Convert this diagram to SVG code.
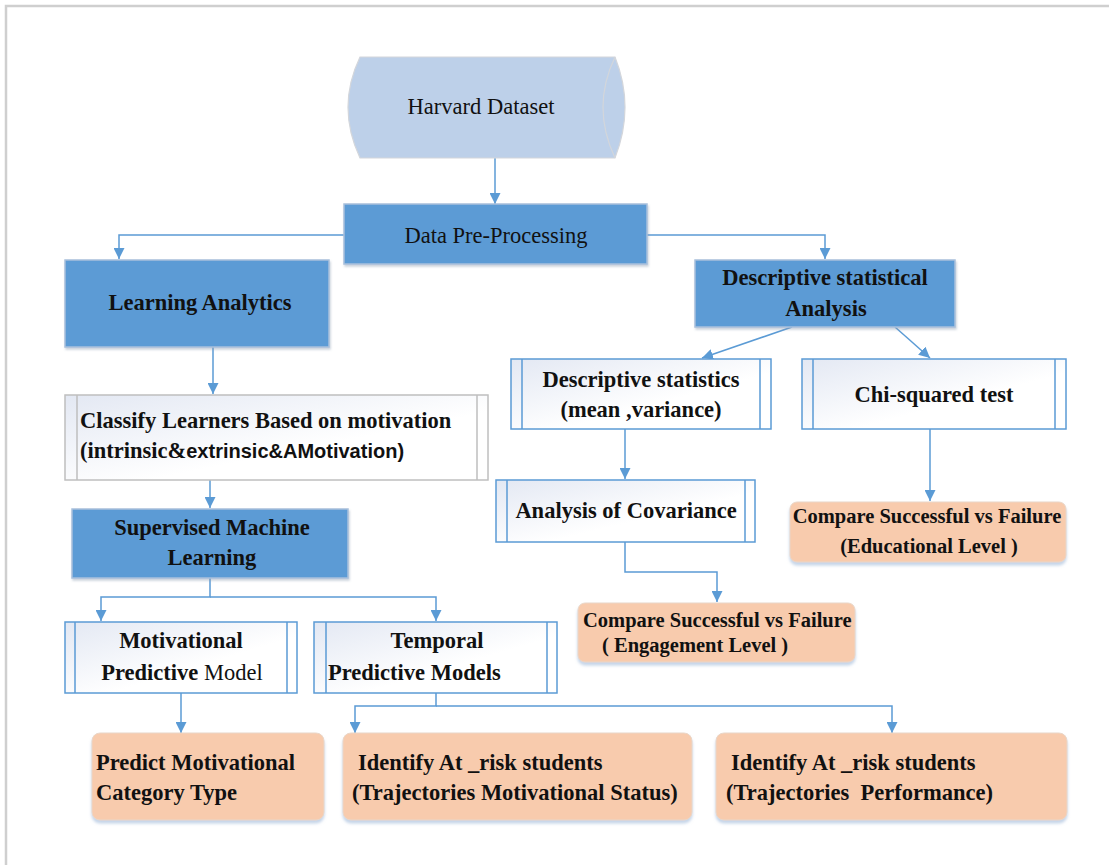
<svg xmlns="http://www.w3.org/2000/svg" width="1109" height="865" viewBox="0 0 1109 865">
<style>
.t{font-family:"Liberation Serif","Times New Roman",serif;fill:#111;font-size:22.5px}
.b{font-weight:bold}
.s{font-size:20.5px}
.blue{fill:#5b9bd5;stroke:#a9c0dc;stroke-width:1.5}
.proc{fill:url(#pg);stroke:#5b9bd5;stroke-width:1.5}
.procg{fill:url(#pg);stroke:#bfbfbf;stroke-width:1.5}
.in{stroke:#5b9bd5;stroke-width:1.5;fill:none}
.ing{stroke:#bfbfbf;stroke-width:1.5;fill:none}
.orange{fill:#f8cbad;stroke:#e9d6c8;stroke-width:1}
.c{fill:none;stroke:#5b9bd5;stroke-width:1.5;marker-end:url(#ah)}
</style>
<defs>
<linearGradient id="pg" x1="0" y1="0" x2="1" y2="1">
<stop offset="0" stop-color="#e3e8f3"/>
<stop offset="0.6" stop-color="#ffffff"/>
</linearGradient>
<filter id="sh" x="-5%" y="-10%" width="110%" height="125%">
<feDropShadow dx="1" dy="2" stdDeviation="1.2" flood-color="#8a9bb0" flood-opacity="0.45"/>
</filter>
<filter id="sho" x="-5%" y="-10%" width="110%" height="125%">
<feDropShadow dx="0" dy="3" stdDeviation="1.5" flood-color="#9db8d9" flood-opacity="0.6"/>
</filter>
<marker id="ah" markerUnits="userSpaceOnUse" markerWidth="11" markerHeight="11" refX="10" refY="5" orient="auto" viewBox="0 0 10 10">
<path d="M0,0 L10,5 L0,10 z" fill="#5b9bd5"/>
</marker>
</defs>
<rect width="1109" height="865" fill="#ffffff"/>
<path d="M6,865 V6 H1109" fill="none" stroke="#cfcfcf" stroke-width="2.5"/>

<g id="connectors">
<path class="c" d="M495,158 V204"/>
<path class="c" d="M344,235 H119 V259"/>
<path class="c" d="M647,235 H825 V259"/>
<path class="c" d="M213,347 V394"/>
<path class="c" d="M792,327 L702,358"/>
<path class="c" d="M895,327 L930,358"/>
<path class="c" d="M210,480 V508"/>
<path class="c" d="M625,429 V479"/>
<path class="c" d="M930,429 V501"/>
<path class="c" d="M625,542 V572 H717 V602"/>
<path class="c" d="M210,578 V597 H101 V621"/>
<path class="c" d="M210,597 H436 V621"/>
<path class="c" d="M181,693 V733"/>
<path class="c" d="M436,693 V706 H355 V733"/>
<path class="c" d="M436,706 H892 V733"/>
</g>

<g id="harvard">
<path d="M360,57 H615 Q635,107 615,158 H360 Q336,107 360,57 Z" fill="#bdd0e9" stroke="#d3d6db" stroke-width="1.2"/>
<path d="M615,57 Q591,107 615,158" fill="none" stroke="#d3d6db" stroke-width="1.2"/>
<text class="t" x="481" y="114" text-anchor="middle">Harvard Dataset</text>
</g>

<g id="preprocessing">
<rect class="blue" x="344" y="204" width="303" height="60" filter="url(#sh)"/>
<text class="t" x="496" y="243" text-anchor="middle">Data Pre-Processing</text>
</g>

<g id="learning-analytics">
<rect class="blue" x="65" y="260" width="264" height="87" filter="url(#sh)"/>
<text class="t b" x="200" y="310" text-anchor="middle">Learning Analytics</text>
</g>

<g id="descriptive-analysis">
<rect class="blue" x="695" y="260" width="260" height="67" filter="url(#sh)"/>
<text class="t b" x="825" y="285" text-anchor="middle">Descriptive statistical</text>
<text class="t b" x="826" y="316" text-anchor="middle">Analysis</text>
</g>

<g id="descriptive-statistics">
<rect class="proc" x="511" y="359" width="260" height="70"/>
<path class="in" d="M522,359 V429 M760,359 V429"/>
<text class="t b" x="641" y="387" text-anchor="middle">Descriptive statistics</text>
<text class="t b" x="641" y="417" text-anchor="middle">(mean ,variance)</text>
</g>

<g id="chi-squared">
<rect class="proc" x="802" y="359" width="264" height="70"/>
<path class="in" d="M813,359 V429 M1055,359 V429"/>
<text class="t b" x="934" y="402" text-anchor="middle">Chi-squared test</text>
</g>

<g id="classify">
<rect class="procg" x="65" y="395" width="423" height="85"/>
<path class="ing" d="M77,395 V480 M477,395 V480"/>
<text class="t b" x="80" y="428">Classify Learners Based on motivation</text>
<text class="t b" x="80" y="458">(intrinsic&amp;<tspan style="font-family:'Liberation Sans',Arial,sans-serif;font-size:20px">extrinsic&amp;AMotivation)</tspan></text>
</g>

<g id="covariance">
<rect class="proc" x="496" y="480" width="259" height="62"/>
<path class="in" d="M507,480 V542 M745,480 V542"/>
<text class="t b" x="626" y="518" text-anchor="middle">Analysis of Covariance</text>
</g>

<g id="compare-educational">
<rect class="orange" x="790" y="502" width="276" height="60" rx="7" filter="url(#sho)"/>
<text class="t b s" x="927" y="523" text-anchor="middle">Compare Successful vs Failure</text>
<text class="t b s" x="929" y="553" text-anchor="middle">(Educational Level )</text>
</g>

<g id="supervised">
<rect class="blue" x="72" y="509" width="276" height="69" filter="url(#sh)"/>
<text class="t b" x="212" y="535" text-anchor="middle">Supervised Machine</text>
<text class="t b" x="212" y="565" text-anchor="middle">Learning</text>
</g>

<g id="compare-engagement">
<rect class="orange" x="578" y="603" width="277" height="59" rx="7" filter="url(#sho)"/>
<text class="t b s" x="583" y="627">Compare Successful vs Failure</text>
<text class="t b s" x="602" y="652" style="white-space:pre">( Engagement Level )</text>
</g>

<g id="motivational-model">
<rect class="proc" x="65" y="622" width="232" height="71"/>
<path class="in" d="M75,622 V693 M287,622 V693"/>
<text class="t b" x="181" y="648" text-anchor="middle">Motivational</text>
<text class="t b" x="182" y="680" text-anchor="middle">Predictive <tspan font-weight="normal">Model</tspan></text>
</g>

<g id="temporal-models">
<rect class="proc" x="314" y="622" width="243" height="71"/>
<path class="in" d="M326,622 V693 M547,622 V693"/>
<text class="t b" x="437" y="648" text-anchor="middle">Temporal</text>
<text class="t b" x="328" y="680">Predictive Models</text>
</g>

<g id="predict-category">
<rect class="orange" x="92" y="733" width="232" height="87" rx="8" filter="url(#sho)"/>
<text class="t b" x="96" y="770">Predict Motivational</text>
<text class="t b" x="96" y="800">Category Type</text>
</g>

<g id="identify-motivational">
<rect class="orange" x="343" y="733" width="349" height="87" rx="8" filter="url(#sho)"/>
<text class="t b" x="358" y="770">Identify At _risk students</text>
<text class="t b" x="352" y="800">(Trajectories Motivational Status)</text>
</g>

<g id="identify-performance">
<rect class="orange" x="716" y="733" width="351" height="87" rx="8" filter="url(#sho)"/>
<text class="t b" x="731" y="770">Identify At _risk students</text>
<text class="t b" x="726" y="800" style="white-space:pre">(Trajectories  Performance)</text>
</g>
</svg>
